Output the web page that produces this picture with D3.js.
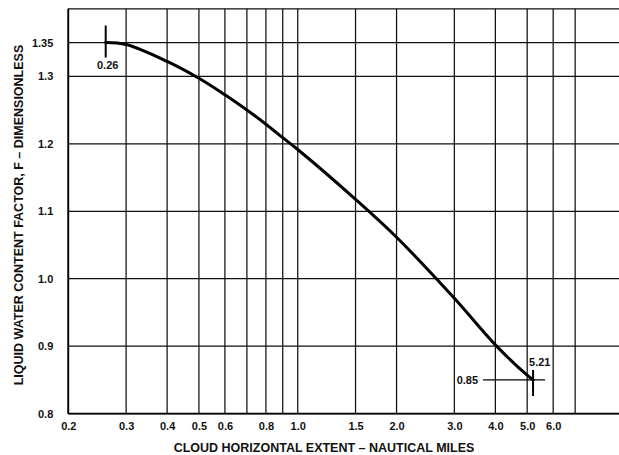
<!DOCTYPE html>
<html>
<head>
<meta charset="utf-8">
<script src="https://cdn.jsdelivr.net/npm/d3@7"></script>
<style>
  html, body { margin: 0; padding: 0; background: #fff; }
  svg { display: block; font-family: "Liberation Sans", Arial, Helvetica, sans-serif; font-weight: bold; }
</style>
</head>
<body>
<svg id="chart" width="619" height="455"></svg>
<script>
// Cloud horizontal extent (nautical miles) vs. liquid water content factor F
const extentNm = [0.26, 0.3, 0.4, 0.5, 0.6, 0.7, 0.8, 0.9, 1.0, 1.5, 2.0, 3.0, 4.0, 5.0, 5.21];
const factorF  = [1.35, 1.347, 1.322, 1.297, 1.2725, 1.25, 1.229, 1.209, 1.1915, 1.1176, 1.0614, 0.971, 0.902, 0.857, 0.85];

const xGridValues = [0.2, 0.3, 0.4, 0.5, 0.6, 0.7, 0.8, 0.9, 1.0, 1.5, 2.0, 3.0, 4.0, 5.0, 6.0, 7.0];
const xTickValues = [0.2, 0.3, 0.4, 0.5, 0.6, 0.8, 1.0, 1.5, 2.0, 3.0, 4.0, 5.0, 6.0];
const yGridValues = [0.8, 0.9, 1.0, 1.1, 1.2, 1.3, 1.35, 1.4];
const yTickValues = [0.8, 0.9, 1.0, 1.1, 1.2, 1.3, 1.35];

const startPoint = { x: 0.26, y: 1.35 };
const endPoint = { x: 5.21, y: 0.85 };

const svg = d3.select("#chart");

const x = d3.scaleLog().domain([0.2, 10]).range([68.3, 626]);
const y = d3.scaleLinear().domain([0.8, 1.4]).range([413.7, 8.8]);

const xLeft = x(0.2), xRight = 619, yBottom = y(0.8), yTop = y(1.4);

// Grid
const grid = svg.append("g").attr("stroke", "#111").attr("stroke-width", 1.25);
grid.selectAll("line.v").data(xGridValues).join("line")
  .attr("class", "v")
  .attr("x1", d => x(d)).attr("x2", d => x(d))
  .attr("y1", yTop).attr("y2", yBottom);
grid.selectAll("line.h").data(yGridValues).join("line")
  .attr("class", "h")
  .attr("x1", xLeft).attr("x2", xRight)
  .attr("y1", d => y(d)).attr("y2", d => y(d));

// Frame edges (left and bottom axes)
svg.append("line").attr("x1", xLeft).attr("x2", xLeft).attr("y1", yTop).attr("y2", yBottom)
  .attr("stroke", "#000").attr("stroke-width", 1.8);
svg.append("line").attr("x1", xLeft).attr("x2", xRight).attr("y1", yBottom).attr("y2", yBottom)
  .attr("stroke", "#000").attr("stroke-width", 1.8);

// Axes labels via d3 axes (ticks hidden, labels only)
const fmt = d => d.toFixed(d === 1.35 ? 2 : 1);
const xAxis = svg.append("g").attr("transform", `translate(0,${yBottom})`)
  .call(d3.axisBottom(x).tickValues(xTickValues).tickFormat(fmt).tickSize(0).tickPadding(9));
const yAxis = svg.append("g").attr("transform", `translate(${xLeft},0)`)
  .call(d3.axisLeft(y).tickValues(yTickValues).tickFormat(fmt).tickSize(0).tickPadding(15));
[xAxis, yAxis].forEach(g => {
  g.select(".domain").remove();
  g.selectAll("text").attr("font-family", "'Liberation Sans', Arial, sans-serif")
    .attr("font-weight", "bold").attr("font-size", 11).attr("fill", "#111");
});

// Axis titles
svg.append("text")
  .attr("x", 324).attr("y", 452)
  .attr("text-anchor", "middle").attr("font-size", 12.5).attr("fill", "#111")
  .text("CLOUD HORIZONTAL EXTENT \u2013 NAUTICAL MILES");
svg.append("text")
  .attr("transform", "translate(23,215) rotate(-90)")
  .attr("text-anchor", "middle").attr("font-size", 12.5).attr("fill", "#111")
  .text("LIQUID WATER CONTENT FACTOR, F \u2013 DIMENSIONLESS");

// Curve
const pts = extentNm.map((d, i) => [x(d), y(factorF[i])]);
svg.append("path")
  .attr("d", d3.line().curve(d3.curveCatmullRom.alpha(0.5))(pts))
  .attr("fill", "none").attr("stroke", "#000").attr("stroke-width", 3)
  .attr("stroke-linecap", "round");

// Start marker 0.26
const sx = x(startPoint.x), sy = y(startPoint.y);
svg.append("line").attr("x1", sx).attr("x2", sx).attr("y1", sy - 17).attr("y2", sy + 15)
  .attr("stroke", "#000").attr("stroke-width", 2);
svg.append("text").attr("x", sx + 2).attr("y", sy + 26)
  .attr("text-anchor", "middle").attr("font-size", 11).attr("fill", "#111")
  .text(startPoint.x.toFixed(2));

// End marker 5.21 / 0.85
const ex = x(endPoint.x), ey = y(endPoint.y);
svg.append("line").attr("x1", ex).attr("x2", ex).attr("y1", ey - 10).attr("y2", ey + 16)
  .attr("stroke", "#000").attr("stroke-width", 2);
svg.append("line").attr("x1", ex - 50).attr("x2", ex + 12).attr("y1", ey).attr("y2", ey)
  .attr("stroke", "#000").attr("stroke-width", 1.3);
svg.append("text").attr("x", ex - 4).attr("y", ey - 14)
  .attr("text-anchor", "start").attr("font-size", 11).attr("fill", "#111")
  .text(endPoint.x.toFixed(2));
svg.append("text").attr("x", ex - 55).attr("y", ey + 4)
  .attr("text-anchor", "end").attr("font-size", 11).attr("fill", "#111")
  .text(endPoint.y.toFixed(2));
</script>
</body>
</html>
